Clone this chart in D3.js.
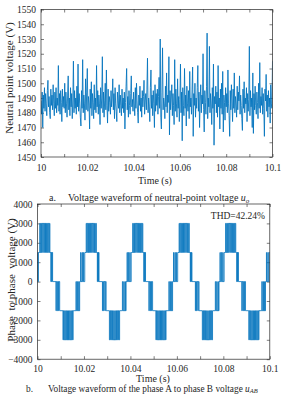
<!DOCTYPE html>
<html>
<head>
<meta charset="utf-8">
<script src="https://cdn.jsdelivr.net/npm/d3@7"></script>
<style>
  body { margin: 0; background: #fff; }
  svg { display: block; }
  text { font-family: "Liberation Serif", "Times New Roman", serif; fill: #262626; }
</style>
</head>
<body>
<div id="chart"></div>
<script>
/* Two MATLAB-style waveform panels: neutral point voltage and line voltage u_AB */

// neutral point voltage, one sample every 0.25 ms from t = 10 s (V)
const uoStepMs = 0.25;
const uoValues = [
  1488,1479,1494,1470,1492,1483,1497,1481,1493,1486,1478,1495,1502,1484,1491,1480,1476,1496,1485,1492,
  1482,1499,1486,1478,1494,1483,1497,1480,1490,1485,1512,1481,1493,1479,1495,1487,1474,1496,1484,1491,
  1483,1500,1480,1494,1486,1477,1492,1505,1482,1490,1478,1497,1484,1493,1476,1488,1515,1480,1495,1483,
  1490,1479,1498,1484,1513,1481,1493,1486,1477,1471,1495,1483,1516,1480,1492,1486,1475,1503,1482,1494,
  1510,1481,1491,1486,1469,1496,1483,1501,1478,1493,1487,1476,1499,1482,1490,1480,1512,1484,1495,1479,
  1492,1486,1472,1497,1483,1490,1518,1480,1494,1477,1488,1500,1482,1509,1485,1473,1496,1481,1491,1487,
  1479,1495,1484,1490,1503,1482,1493,1476,1497,1486,1481,1474,1494,1488,1483,1499,1480,1492,1485,1478,
  1496,1483,1490,1480,1494,1469,1487,1498,1510,1482,1491,1477,1495,1485,1479,1493,1505,1484,1489,1481,
  1494,1486,1478,1497,1483,1500,1488,1480,1473,1492,1485,1498,1481,1490,1477,1495,1484,1491,1502,1479,
  1488,1493,1482,1496,1517,1480,1490,1484,1474,1497,1509,1483,1492,1478,1495,1486,1470,1499,1481,1493,
  1485,1496,1479,1491,1504,1483,1530,1477,1469,1494,1524,1482,1490,1486,1476,1498,1484,1507,1480,1492,
  1487,1518,1465,1495,1482,1490,1499,1478,1493,1485,1472,1516,1481,1496,1486,1477,1503,1483,1491,1474,
  1489,1513,1480,1494,1461,1497,1485,1478,1510,1483,1492,1471,1498,1486,1481,1495,1476,1508,1484,1490,
  1479,1496,1511,1464,1493,1485,1500,1477,1490,1483,1497,1512,1481,1494,1470,1488,1499,1480,1492,1486,
  1520,1482,1467,1495,1487,1479,1498,1534,1476,1490,1484,1525,1480,1493,1486,1472,1497,1483,1513,1458,
  1491,1486,1498,1480,1494,1477,1512,1484,1490,1469,1496,1483,1500,1479,1508,1467,1492,1487,1475,1497,
  1484,1493,1480,1509,1486,1478,1464,1495,1482,1499,1488,1474,1496,1483,1507,1480,1491,1486,1477,1498,
  1482,1494,1488,1505,1479,1492,1485,1476,1468,1496,1483,1501,1480,1490,1486,1497,1474,1493,1481,1489,
  1525,1478,1495,1484,1490,1470,1507,1466,1493,1482,1498,1485,1479,1494,1487,1476,1500,1483,1514,1480,
  1491,1485,1497,1479,1493,1483,1464,1496,1488,1506,1481,1492,1477,1495,1484,1490,1473,1499,1486,1483,
  1515
];

// line voltage u_AB as switching instants: [ms after 10 s, level in V]
const uabSteps = [
  [0,0],[0.1,1500],[0.2,0],[0.35,1500],
  [0.95,3000],[1.2,1500],[1.45,3000],[1.75,1500],[1.95,3000],[2.3,1500],[2.45,3000],[2.85,1500],[2.95,3000],[3.35,1500],[3.45,3000],[3.85,1500],[4.0,3000],[4.35,1500],[4.55,3000],[4.85,1500],[5.1,3000],[5.35,1500],
  [5.75,0],[5.9,1500],[6.15,0],[6.25,1500],[6.5,0],
  [7.95,-1500],[8.1,0],[8.45,-1500],[8.65,0],[9.05,-1500],[9.2,0],[9.55,-1500],
  [10.95,-3000],[11.2,-1500],[11.45,-3000],[11.75,-1500],[11.95,-3000],[12.3,-1500],[12.45,-3000],[12.85,-1500],[12.95,-3000],[13.35,-1500],[13.45,-3000],[13.85,-1500],[14.0,-3000],[14.35,-1500],[14.55,-3000],[14.85,-1500],[15.1,-3000],[15.35,-1500],
  [16.55,0],[16.75,-1500],[17.15,0],[17.3,-1500],[17.75,0],[17.85,-1500],[18.15,0],
  [18.55,1500],[18.7,0],[19.15,1500],[19.35,0],[19.75,1500],[19.9,0],[20.35,1500],
  [20.95,3000],[21.2,1500],[21.45,3000],[21.75,1500],[21.95,3000],[22.3,1500],[22.45,3000],[22.85,1500],[22.95,3000],[23.35,1500],[23.45,3000],[23.85,1500],[24.0,3000],[24.35,1500],[24.55,3000],[24.85,1500],[25.1,3000],[25.35,1500],
  [25.75,0],[25.9,1500],[26.15,0],[26.25,1500],[26.5,0],
  [27.95,-1500],[28.1,0],[28.45,-1500],[28.65,0],[29.05,-1500],[29.2,0],[29.55,-1500],
  [30.95,-3000],[31.2,-1500],[31.45,-3000],[31.75,-1500],[31.95,-3000],[32.3,-1500],[32.45,-3000],[32.85,-1500],[32.95,-3000],[33.35,-1500],[33.45,-3000],[33.85,-1500],[34.0,-3000],[34.35,-1500],[34.55,-3000],[34.85,-1500],[35.1,-3000],[35.35,-1500],
  [36.55,0],[36.75,-1500],[37.15,0],[37.3,-1500],[37.75,0],[37.85,-1500],[38.15,0],
  [38.55,1500],[38.7,0],[39.15,1500],[39.35,0],[39.75,1500],[39.9,0],[40.35,1500],
  [40.95,3000],[41.2,1500],[41.45,3000],[41.75,1500],[41.95,3000],[42.3,1500],[42.45,3000],[42.85,1500],[42.95,3000],[43.35,1500],[43.45,3000],[43.85,1500],[44.0,3000],[44.35,1500],[44.55,3000],[44.85,1500],[45.1,3000],[45.35,1500],
  [45.75,0],[45.9,1500],[46.15,0],[46.25,1500],[46.5,0],
  [47.95,-1500],[48.1,0],[48.45,-1500],[48.65,0],[49.05,-1500],[49.2,0],[49.55,-1500],
  [50.95,-3000],[51.2,-1500],[51.45,-3000],[51.75,-1500],[51.95,-3000],[52.3,-1500],[52.45,-3000],[52.85,-1500],[52.95,-3000],[53.35,-1500],[53.45,-3000],[53.85,-1500],[54.0,-3000],[54.35,-1500],[54.55,-3000],[54.85,-1500],[55.1,-3000],[55.35,-1500],
  [56.55,0],[56.75,-1500],[57.15,0],[57.3,-1500],[57.75,0],[57.85,-1500],[58.15,0],
  [58.55,1500],[58.7,0],[59.15,1500],[59.35,0],[59.75,1500],[59.9,0],[60.35,1500],
  [60.95,3000],[61.2,1500],[61.45,3000],[61.75,1500],[61.95,3000],[62.3,1500],[62.45,3000],[62.85,1500],[62.95,3000],[63.35,1500],[63.45,3000],[63.85,1500],[64.0,3000],[64.35,1500],[64.55,3000],[64.85,1500],[65.1,3000],[65.35,1500],
  [65.75,0],[65.9,1500],[66.15,0],[66.25,1500],[66.5,0],
  [67.95,-1500],[68.1,0],[68.45,-1500],[68.65,0],[69.05,-1500],[69.2,0],[69.55,-1500],
  [70.95,-3000],[71.2,-1500],[71.45,-3000],[71.75,-1500],[71.95,-3000],[72.3,-1500],[72.45,-3000],[72.85,-1500],[72.95,-3000],[73.35,-1500],[73.45,-3000],[73.85,-1500],[74.0,-3000],[74.35,-1500],[74.55,-3000],[74.85,-1500],[75.1,-3000],[75.35,-1500],
  [76.55,0],[76.75,-1500],[77.15,0],[77.3,-1500],[77.75,0],[77.85,-1500],[78.15,0],
  [78.55,1500],[78.7,0],[79.15,1500],[79.35,0],[79.75,1500],[79.9,0],[80.35,1500],
  [80.95,3000],[81.2,1500],[81.45,3000],[81.75,1500],[81.95,3000],[82.3,1500],[82.45,3000],[82.85,1500],[82.95,3000],[83.35,1500],[83.45,3000],[83.85,1500],[84.0,3000],[84.35,1500],[84.55,3000],[84.85,1500],[85.1,3000],[85.35,1500],
  [85.75,0],[85.9,1500],[86.15,0],[86.25,1500],[86.5,0],
  [87.95,-1500],[88.1,0],[88.45,-1500],[88.65,0],[89.05,-1500],[89.2,0],[89.55,-1500],
  [90.95,-3000],[91.2,-1500],[91.45,-3000],[91.75,-1500],[91.95,-3000],[92.3,-1500],[92.45,-3000],[92.85,-1500],[92.95,-3000],[93.35,-1500],[93.45,-3000],[93.85,-1500],[94.0,-3000],[94.35,-1500],[94.55,-3000],[94.85,-1500],[95.1,-3000],[95.35,-1500],
  [96.55,0],[96.75,-1500],[97.15,0],[97.3,-1500],[97.75,0],[97.85,-1500],[98.15,0],
  [98.55,1500],[98.7,0],[99.15,1500],[99.35,0],[99.75,1500],[100,1500]
];

// axis ticks
const timeTicks = [10, 10.01, 10.02, 10.03, 10.04, 10.05, 10.06, 10.07, 10.08, 10.09, 10.1];
const timeLabels = ["10", "", "10.02", "", "10.04", "", "10.06", "", "10.08", "", "10.1"];
const uoTicks = [1450, 1460, 1470, 1480, 1490, 1500, 1510, 1520, 1530, 1540, 1550];
const uabTicks = [-4000, -3000, -2000, -1000, 0, 1000, 2000, 3000, 4000];

const width = 281, height = 395;
const lineColor = "#0072BD";

const svg = d3.select("#chart").append("svg")
    .attr("width", width)
    .attr("height", height)
    .attr("viewBox", [0, 0, width, height]);

// draws one boxed MATLAB style panel, returns the scales
function panel(id, box, yDomain, yTicks) {
    const x = d3.scaleLinear().domain([10, 10.1]).range([box.left, box.right]);
    const y = d3.scaleLinear().domain(yDomain).range([box.bottom, box.top]);

    svg.append("clipPath").attr("id", id)
      .append("rect")
        .attr("x", box.left).attr("y", box.top)
        .attr("width", box.right - box.left).attr("height", box.bottom - box.top);

    const style = g => {
        g.select(".domain").remove();
        g.selectAll("line").attr("stroke", "#262626").attr("stroke-width", 0.6);
        g.selectAll("text").attr("font-size", "9.5px").attr("fill", "#262626")
            .attr("font-family", "'Liberation Serif', serif");
    };

    svg.append("g")
        .attr("transform", `translate(0,${box.bottom})`)
        .call(d3.axisBottom(x).tickValues(timeTicks).tickSize(-3).tickPadding(box.xPad)
            .tickFormat((d, i) => timeLabels[i]))
        .call(style);
    svg.append("g")
        .attr("transform", `translate(0,${box.top})`)
        .call(d3.axisTop(x).tickValues(timeTicks).tickSize(-3).tickFormat(""))
        .call(style);
    svg.append("g")
        .attr("transform", `translate(${box.left},0)`)
        .call(d3.axisLeft(y).tickValues(yTicks).tickSize(-3).tickPadding(5).tickFormat(d3.format("d")))
        .call(style);
    svg.append("g")
        .attr("transform", `translate(${box.right},0)`)
        .call(d3.axisRight(y).tickValues(yTicks).tickSize(-3).tickFormat(""))
        .call(style);

    return {x, y};
}

// ---- panel a: neutral point voltage ----
const boxA = {left: 41, right: 272.5, top: 9.5, bottom: 157, xPad: 7};
const a = panel("clipA", boxA, [1450, 1550], uoTicks);

svg.append("path")
    .datum(uoValues)
    .attr("clip-path", "url(#clipA)")
    .attr("fill", "none")
    .attr("stroke", lineColor)
    .attr("stroke-width", 0.85)
    .attr("d", d3.line()
        .x((d, i) => a.x(10 + i * uoStepMs / 1000))
        .y(d => a.y(d)));

svg.append("rect")
    .attr("x", boxA.left).attr("y", boxA.top)
    .attr("width", boxA.right - boxA.left).attr("height", boxA.bottom - boxA.top)
    .attr("fill", "none").attr("stroke", "#262626").attr("stroke-width", 0.7);

svg.append("text")
    .attr("transform", "translate(13,78) rotate(-90)")
    .attr("text-anchor", "middle")
    .attr("font-size", "11px")
    .text("Neutral point voltage (V)");

svg.append("text")
    .attr("x", 155).attr("y", 183.5)
    .attr("text-anchor", "middle")
    .attr("font-size", "10px")
    .text("Time (s)");

svg.append("text").attr("x", 49).attr("y", 200.5).attr("font-size", "10px").text("a.");
const capA = svg.append("text").attr("x", 68).attr("y", 200.5).attr("font-size", "10px");
capA.append("tspan").text("Voltage waveform of neutral-point voltage ");
capA.append("tspan").attr("font-style", "italic").text("u");
capA.append("tspan").attr("font-style", "italic").attr("font-size", "7px").attr("dy", 2).text("o");

// ---- panel b: line voltage u_AB ----
const boxB = {left: 37.5, right: 269.8, top: 204, bottom: 359.2, xPad: 6.5};
const b = panel("clipB", boxB, [-4000, 4000], uabTicks);

svg.append("path")
    .datum(uabSteps)
    .attr("clip-path", "url(#clipB)")
    .attr("fill", "none")
    .attr("stroke", lineColor)
    .attr("stroke-width", 0.8)
    .attr("d", d3.line()
        .x(d => b.x(10 + d[0] / 1000))
        .y(d => b.y(d[1]))
        .curve(d3.curveStepAfter));

svg.append("rect")
    .attr("x", boxB.left).attr("y", boxB.top)
    .attr("width", boxB.right - boxB.left).attr("height", boxB.bottom - boxB.top)
    .attr("fill", "none").attr("stroke", "#262626").attr("stroke-width", 0.7);

svg.append("text")
    .attr("x", 265).attr("y", 218.5)
    .attr("text-anchor", "end")
    .attr("font-size", "9.5px")
    .text("THD=42.24%");

svg.append("text")
    .attr("transform", "translate(15,280) rotate(-90)")
    .attr("text-anchor", "middle")
    .attr("font-size", "11px")
    .attr("xml:space", "preserve")
    .style("white-space", "pre")
    .text("Phase  to phase  voltage (V)");

svg.append("text")
    .attr("x", 153).attr("y", 382)
    .attr("text-anchor", "middle")
    .attr("font-size", "10px")
    .text("Time (s)");

svg.append("text").attr("x", 26).attr("y", 392).attr("font-size", "9.3px").text("b.");
const capB = svg.append("text").attr("x", 48).attr("y", 392).attr("font-size", "9.3px");
capB.append("tspan").text("Voltage waveform of the phase A to phase B voltage ");
capB.append("tspan").attr("font-style", "italic").text("u");
capB.append("tspan").attr("font-style", "italic").attr("font-size", "6.5px").attr("dy", 1.3).text("AB");
</script>
</body>
</html>
